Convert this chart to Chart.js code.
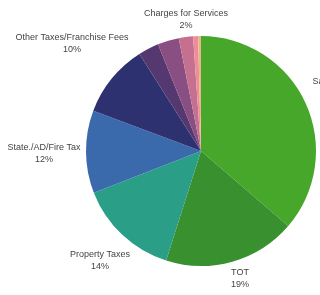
<!DOCTYPE html>
<html lang="en">
<head>
  <meta charset="UTF-8">
  <title>Revenue Sources</title>
  <script src="https://cdn.jsdelivr.net/npm/chart.js"></script>
  <style>
    html, body { margin: 0; padding: 0; background: #fff; }
    #wrap { width: 320px; height: 295px; }
  </style>
</head>
<body>
  <div id="wrap"><canvas id="revenueChart" width="320" height="295"></canvas></div>

  <script>
    // slices clockwise from 12 o'clock
    const categories = ['Sales Tax', 'TOT', 'Property Taxes', 'State./AD/Fire Tax',
      'Other Taxes/Franchise Fees', 'Licenses & Permits', 'Use of Money & Property',
      'Charges for Services', 'Fines & Forfeitures', 'Other Revenue'];
    const shares = [36.3, 18.6, 14.2, 11.6, 10.3, 2.9, 3.0, 2.0, 0.7, 0.4];
    const showLabel = [true, true, true, true, true, false, false, true, false, false];

    const colors = ['#47a72b', '#38902f', '#2b9e88', '#3a6aab', '#2e3170',
      '#553870', '#8a4f82', '#c6708f', '#ec8e98', '#e9b48a'];

    // label centre for each labelled slice (style only)
    const labelPos = {
      0: [332, 82], 1: [240, 273], 2: [100, 255], 3: [44, 148], 4: [72, 38], 7: [186, 14]
    };

    const pieLabels = {
      id: 'pieLabels',
      afterDraw(chart) {
        const ctx = chart.ctx;
        const total = shares.reduce((a, b) => a + b, 0);
        ctx.save();
        ctx.fillStyle = '#444';
        ctx.font = '9px "Liberation Sans", Arial, sans-serif';
        ctx.textAlign = 'center';
        ctx.textBaseline = 'middle';
        categories.forEach((name, i) => {
          if (!showLabel[i]) return;
          const [x, y] = labelPos[i];
          ctx.fillText(name, x, y);
          ctx.fillText(Math.round(shares[i] / total * 100) + '%', x, y + 12);
        });
        ctx.restore();
      }
    };

    new Chart(document.getElementById('revenueChart'), {
      type: 'pie',
      data: {
        labels: categories,
        datasets: [{
          data: shares,
          backgroundColor: colors,
          borderWidth: 0
        }]
      },
      options: {
        responsive: false,
        animation: false,
        layout: { padding: { left: 86, right: 4, top: 36, bottom: 29 } },
        plugins: {
          legend: { display: false },
          tooltip: { enabled: false }
        }
      },
      plugins: [pieLabels]
    });
  </script>
</body>
</html>
